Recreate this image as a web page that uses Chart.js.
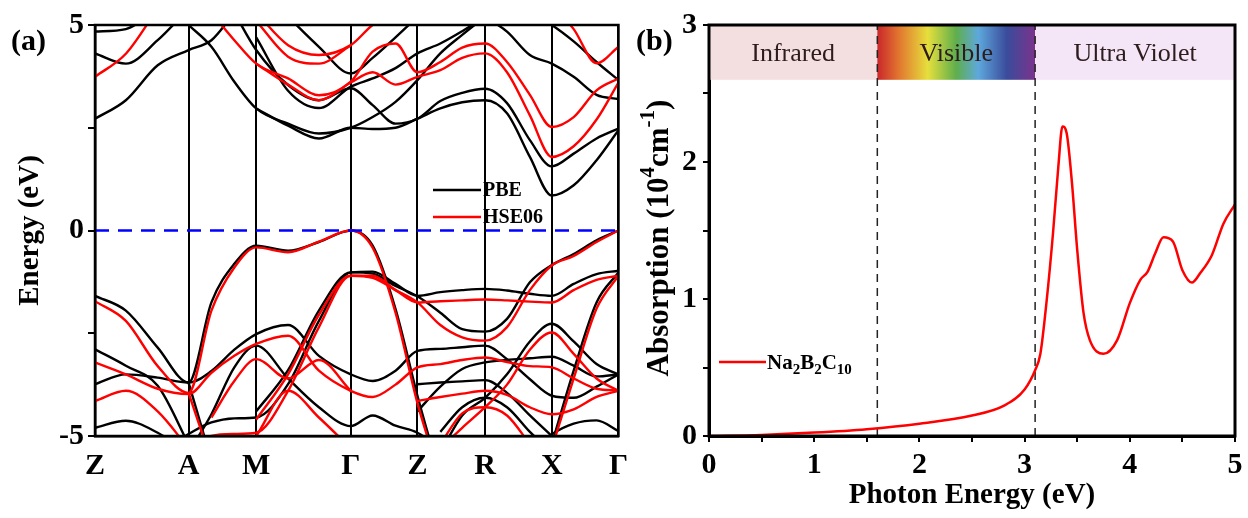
<!DOCTYPE html>
<html>
<head>
<meta charset="utf-8">
<script src="https://cdn.jsdelivr.net/npm/chart.js@4.4.1/dist/chart.umd.min.js"></script>
<style>
  html, body { margin: 0; background: #fff; }
  #wrap { position: relative; width: 1248px; height: 518px; }
  canvas { position: absolute; top: 0; }
</style>
</head>
<body>
<div id="wrap">
  <canvas id="bands" width="640" height="518" style="left:0"></canvas>
  <canvas id="absorb" width="618" height="518" style="left:630px"></canvas>
</div>
<script>
'use strict';

const SERIF = '"Liberation Serif", "Times New Roman", serif';
const N = null;
const gap = n => Array(n).fill(null);

// ---- panel (a): band structure ----
// k-path sample positions (same grid for every band)
const kPath = [0, 0.31, 0.63, 0.94, 1.17, 1.40, 1.62, 1.94, 2.25, 2.57, 2.79,
               3.02, 3.24, 3.47, 3.69, 3.92, 4.14, 4.37, 4.59, 4.81, 5.04, 5.26];
const kSymPos = [0, 0.94, 1.62, 2.57, 3.24, 3.92, 4.59, 5.26];
const kSymLabels = ['Z', 'A', 'M', 'Γ', 'Z', 'R', 'X', 'Γ'];

// PBE bands (eV), read at kPath
const pbeValence = [
  [-1.59, -1.95, -2.85, -3.70, -1.75, -0.81, -0.37, -0.49, -0.28, 0.00, -0.37, -1.91, -4.02, -6.0],
  [-3.74, -3.50, -3.58, -3.70, -3.42, -2.90, -2.52, -2.30, -3.05, -3.50, -3.66, -3.41, -2.93, -2.88, -2.84, -2.80, -3.13, -3.62, -4.02, -4.07, -3.80, -3.50],
  [-2.89, -3.29, -3.78, -5.20],
  [-4.80, -4.63, -4.92, -5.40],
  [N, N, -5.40, -4.95, -4.67, -4.57, -4.55, -3.74, -2.20, -1.02, -1.00, -1.30, -1.59, -1.50, -1.45, -1.42, -1.46, -1.54, -1.59, -1.30, -1.06, -0.98],
  [...gap(6), -4.40, -3.40, -1.95, -1.02, -1.05, -1.35, -1.60, -2.00, -2.40, -2.46, -2.15, -1.26, -0.84, -0.57, -0.24, 0.00],
  [...gap(3), -5.40, -4.47, -3.33, -2.80, -3.60, -4.30, -4.76, -4.50, -4.75, -4.92, -5.30],
  [...gap(13), -5.40, -4.50, -4.07, -3.50, -2.70, -2.27, -2.70, -3.25, -3.50],
  [...gap(12), -4.40, -3.80, -3.37, -3.21, -3.15, -3.11, -3.07, -3.29, -3.55, -3.50],
  [...gap(12), -3.74, -3.70, -3.67, -3.64, -3.95, -4.50, -5.00, -5.50],
  [...gap(13), -4.90, -4.30, -4.07, -4.30, -4.90, -5.40],
  [...gap(17), -5.40, -4.96, -4.70, -4.62, -4.88],
  [...gap(18), -5.20, -3.41, -1.75, -1.02],
  [...gap(3), -3.70, -5.60]
];
const pbeConduction = [
  [2.72, 3.17, 4.02, 4.39, 4.63, 5.30],
  [4.31, 4.06, 4.63, 5.40],
  [4.84, 4.90, 5.40],
  [...gap(3), 5.00, 4.47, 3.62, 2.97, 2.60, 2.36, 2.50, 2.76, 3.13, 3.66, 4.31, 4.76, 5.20],
  [...gap(6), 2.97, 2.55, 2.24, 2.50, 2.47, 2.50, 2.72, 2.97, 3.12, 3.17, 2.85, 1.79, 0.85, 1.10, 1.71, 2.44],
  [...gap(5), 5.30, 4.39, 3.54, 3.17, 3.46, 3.05, 2.60, 2.72, 3.15, 3.35, 3.45, 3.10, 2.20, 1.56, 1.87, 2.24, 2.48],
  [...gap(6), 4.70, 3.40, 2.98, 3.50, 3.70, 3.95, 4.31, 4.55, 4.85, 5.20],
  [...gap(7), 5.20, 4.47, 3.82, 4.20, 4.70, 5.20],
  [...gap(15), 5.20, 4.84, 4.27, 4.06, 3.74, 3.30, 3.20],
  [...gap(17), 5.30, 5.00, 4.60, 4.10, 3.66]
];

// HSE06 bands (eV), read at kPath
const hseValence = [
  [-1.72, -2.20, -3.30, -3.95, -1.95, -0.90, -0.41, -0.53, -0.27, 0.00, -0.42, -2.00, -4.20, -6.0],
  [...gap(3), -5.30, -5.00, -4.95, -4.92, -3.90, -2.35, -1.10, -1.10, -1.45, -1.75, -1.72, -1.70, -1.68, -1.70, -1.73, -1.75, -1.45, -1.20, -1.10],
  [...gap(6), -4.60, -3.50, -2.05, -1.10, -1.15, -1.45, -1.75, -2.30, -2.60, -2.68, -2.35, -1.45, -0.85, -0.62, -0.28, 0.00],
  [-3.21, -3.50, -3.85, -3.98, -3.46, -3.05, -2.76, -2.56, -3.41, -3.90, -4.05, -3.75, -3.33, -3.25, -3.15, -3.09, -3.20, -3.30, -3.33, -3.60, -3.85, -3.89],
  [-4.15, -3.90, -4.40, -5.30],
  [...gap(4), -4.55, -3.66, -3.13, -3.60, -3.15, -3.90],
  [...gap(6), -5.00, -3.90, -4.55, -5.30],
  [...gap(13), -5.30, -4.80, -4.30, -3.75, -2.90, -2.48, -3.00, -3.60, -3.90],
  [...gap(12), -4.15, -4.05, -3.97, -3.90, -4.00, -4.30, -4.47, -4.35, -4.05, -3.90],
  [...gap(13), -5.20, -4.45, -4.30, -4.50, -5.20],
  [...gap(18), -5.30, -3.60, -1.90, -1.10],
  [...gap(3), -3.95, -5.60]
];
const hseConduction = [
  [3.74, 4.30, 5.40],
  [...gap(4), 5.30, 4.63, 4.06, 3.70, 3.29, 3.62, 4.35, 4.55, 3.85, 4.10, 4.45, 4.55, 4.10, 3.30, 2.52, 2.76, 3.41, 3.70],
  [...gap(6), 4.06, 3.55, 3.17, 3.60, 3.85, 3.55, 3.74, 3.90, 4.20, 4.31, 3.85, 2.80, 1.79, 2.05, 2.70, 3.60],
  [...gap(6), 5.30, 4.51, 4.27, 4.51, 5.00, 5.30],
  [...gap(6), 5.10, 4.23, 4.06, 4.50],
  [...gap(18), 5.50, 4.90, 4.07, 4.47]
];

// ---- panel (b): absorption ----
const photonEnergy = [0, 0.5, 1.0, 1.5, 2.0, 2.5, 2.8, 3.0, 3.1, 3.15, 3.21, 3.27, 3.32, 3.36, 3.4,
                      3.45, 3.5, 3.56, 3.62, 3.75, 3.88, 4.0, 4.1, 4.17, 4.24, 4.32, 4.41, 4.5,
                      4.59, 4.67, 4.78, 4.89, 5.0];
const absorption = [0, 0.008, 0.025, 0.05, 0.09, 0.15, 0.22, 0.34, 0.48, 0.6, 0.99, 1.48, 1.96, 2.26, 2.21,
                    1.85, 1.36, 0.9, 0.7, 0.6, 0.7, 0.97, 1.14, 1.2, 1.33, 1.45, 1.42, 1.21,
                    1.12, 1.19, 1.32, 1.55, 1.69];
const regionEdges = [0, 1.6, 3.1, 5];
const regionNames = ['Infrared', 'Visible', 'Ultra Violet'];
const regionSpan = [2.6, 3];

Chart.defaults.font.family = SERIF;
Chart.defaults.color = '#000';

function bandLine(values, color) {
  return {
    data: kPath.map((k, i) => ({ x: k, y: values[i] === undefined ? null : values[i] })),
    borderColor: color,
    borderWidth: 2.4,
    pointRadius: 0,
    cubicInterpolationMode: 'monotone',
    fill: false
  };
}

const boldTicks = { size: 28, weight: 'bold' };

// frame, panel label and legend for (a)
const bandsDecor = {
  id: 'bandsDecor',
  afterDraw(chart) {
    const { ctx, chartArea: a } = chart;
    ctx.save();
    ctx.strokeStyle = '#000';
    ctx.lineWidth = 2.5;
    ctx.strokeRect(a.left, a.top, a.right - a.left, a.bottom - a.top);

    ctx.fillStyle = '#000';
    ctx.font = 'bold 30px ' + SERIF;
    ctx.textBaseline = 'alphabetic';
    ctx.fillText('(a)', 11, 50);

    ctx.font = 'bold 20px ' + SERIF;
    ctx.textBaseline = 'middle';
    [['PBE', '#000000', 190], ['HSE06', '#ff0000', 217]].forEach(([label, color, y]) => {
      ctx.strokeStyle = color;
      ctx.lineWidth = 2.5;
      ctx.beginPath();
      ctx.moveTo(433, y);
      ctx.lineTo(481, y);
      ctx.stroke();
      ctx.fillStyle = '#000';
      ctx.fillText(label, 483, y + 1);
    });
    ctx.restore();
  }
};

const fermiLine = {
  data: [{ x: 0, y: 0 }, { x: kSymPos[kSymPos.length - 1], y: 0 }],
  borderColor: '#0000ff',
  borderWidth: 2.5,
  borderDash: [14, 9],
  pointRadius: 0
};

new Chart(document.getElementById('bands'), {
  type: 'line',
  data: {
    datasets: [
      fermiLine,
      ...hseValence.map(b => bandLine(b, '#ff0000')),
      ...hseConduction.map(b => bandLine(b, '#ff0000')),
      ...pbeValence.map(b => bandLine(b, '#000000')),
      ...pbeConduction.map(b => bandLine(b, '#000000'))
    ]
  },
  options: {
    responsive: false,
    animation: false,
    devicePixelRatio: 1,
    layout: { padding: { left: 0, right: 19, top: 25, bottom: 0 } },
    plugins: { legend: { display: false }, tooltip: { enabled: false } },
    scales: {
      x: {
        type: 'linear',
        min: 0,
        max: kSymPos[kSymPos.length - 1],
        afterBuildTicks: s => { s.ticks = kSymPos.map(v => ({ value: v })); },
        afterFit: s => { s.height = 82; },
        grid: { color: '#000', lineWidth: 2, drawTicks: false },
        border: { color: '#000', width: 2.5 },
        ticks: { font: { size: 30, weight: 'bold' }, padding: 12, autoSkip: false, maxRotation: 0,
                 callback: (v, i) => kSymLabels[i] }
      },
      y: {
        min: -5,
        max: 5,
        afterFit: s => { s.width = 95; },
        grid: { drawOnChartArea: false, color: '#000', lineWidth: 2, tickLength: 7 },
        border: { color: '#000', width: 2.5 },
        ticks: { stepSize: 2.5, font: { size: 30, weight: 'bold' }, padding: 4, autoSkip: false,
                 callback: v => (v % 5 === 0 ? String(v) : '') },
        title: { display: true, text: 'Energy (eV)', font: { size: 29, weight: 'bold' },
                 padding: { top: 13, bottom: 0 } }
      }
    }
  },
  plugins: [bandsDecor]
});

// ---- chart (b) ----
function drawRuns(ctx, runs, x, y) {
  runs.forEach(([text, size, dy]) => {
    ctx.font = 'bold ' + size + 'px ' + SERIF;
    ctx.fillText(text, x, y + dy);
    x += ctx.measureText(text).width;
  });
}
function runsWidth(ctx, runs) {
  return runs.reduce((w, [text, size]) => {
    ctx.font = 'bold ' + size + 'px ' + SERIF;
    return w + ctx.measureText(text).width;
  }, 0);
}

const absorbDecor = {
  id: 'absorbDecor',
  beforeDatasetsDraw(chart) {
    const { ctx, scales: { x, y } } = chart;
    const top = y.getPixelForValue(regionSpan[1]);
    const bot = y.getPixelForValue(regionSpan[0]);
    ctx.save();
    for (let i = 0; i < regionNames.length; i++) {
      const x0 = x.getPixelForValue(regionEdges[i]);
      const x1 = x.getPixelForValue(regionEdges[i + 1]);
      if (i === 1) {
        const g = ctx.createLinearGradient(x0, 0, x1, 0);
        g.addColorStop(0.00, '#c9272b');
        g.addColorStop(0.14, '#e2782f');
        g.addColorStop(0.32, '#e6df3c');
        g.addColorStop(0.50, '#5fae4d');
        g.addColorStop(0.64, '#5ea8dc');
        g.addColorStop(0.82, '#3a4c9c');
        g.addColorStop(1.00, '#7b338c');
        ctx.fillStyle = g;
      } else {
        ctx.fillStyle = i === 0 ? '#f4dfe0' : '#f4e5f7';
      }
      ctx.fillRect(x0, top, x1 - x0, bot - top);
      ctx.fillStyle = '#2d1c1c';
      ctx.font = '26px ' + SERIF;
      ctx.textAlign = 'center';
      ctx.textBaseline = 'middle';
      ctx.fillText(regionNames[i], (x0 + x1) / 2, (top + bot) / 2 + 2);
    }
    ctx.restore();
  },
  afterDraw(chart) {
    const { ctx, chartArea: a } = chart;
    ctx.save();
    ctx.strokeStyle = '#000';
    ctx.lineWidth = 3;
    ctx.strokeRect(a.left, a.top, a.right - a.left, a.bottom - a.top);

    ctx.fillStyle = '#000';
    ctx.textBaseline = 'alphabetic';
    ctx.font = 'bold 30px ' + SERIF;
    ctx.fillText('(b)', 6, 50);

    // y title with superscripts
    const title = [['Absorption (10', 31, 0], ['4', 21, -11], ['cm', 31, 0], ['-1', 21, -11], [')', 31, 0]];
    ctx.translate(30, 238);
    ctx.rotate(-Math.PI / 2);
    ctx.textBaseline = 'middle';
    drawRuns(ctx, title, -runsWidth(ctx, title) / 2, 0);
    ctx.setTransform(1, 0, 0, 1, 0, 0);

    // legend
    ctx.strokeStyle = '#ff0000';
    ctx.lineWidth = 2.5;
    ctx.beginPath();
    ctx.moveTo(89, 362);
    ctx.lineTo(136, 362);
    ctx.stroke();
    ctx.textBaseline = 'alphabetic';
    drawRuns(ctx, [['Na', 21, 0], ['2', 15, 5], ['B', 21, 0], ['2', 15, 5], ['C', 21, 0], ['10', 15, 5]], 137, 369);
    ctx.restore();
  }
};

function regionDivider(e) {
  return {
    data: [{ x: e, y: 0 }, { x: e, y: regionSpan[1] }],
    borderColor: '#222',
    borderWidth: 1.5,
    borderDash: [8, 6],
    pointRadius: 0
  };
}

new Chart(document.getElementById('absorb'), {
  type: 'line',
  data: {
    datasets: [
      {
        data: photonEnergy.map((e, i) => ({ x: e, y: absorption[i] })),
        borderColor: '#ff0000',
        borderWidth: 2.5,
        pointRadius: 0,
        cubicInterpolationMode: 'monotone'
      },
      regionDivider(regionEdges[1]),
      regionDivider(regionEdges[2])
    ]
  },
  options: {
    responsive: false,
    animation: false,
    devicePixelRatio: 1,
    layout: { padding: { left: 0, right: 13, top: 25, bottom: 0 } },
    plugins: { legend: { display: false }, tooltip: { enabled: false } },
    scales: {
      x: {
        type: 'linear',
        min: 0,
        max: 5,
        afterFit: s => { s.height = 82; },
        grid: { drawOnChartArea: false, color: '#000', lineWidth: 2, tickLength: 6 },
        border: { color: '#000', width: 3 },
        ticks: { stepSize: 0.5, font: { size: 30, weight: 'bold' }, padding: 5, autoSkip: false, maxRotation: 0,
                 callback: v => (Number.isInteger(v) ? String(v) : '') },
        title: { display: true, text: 'Photon Energy (eV)', font: { size: 29, weight: 'bold' },
                 padding: { top: 0, bottom: 5 } }
      },
      y: {
        min: 0,
        max: 3,
        afterFit: s => { s.width = 79; },
        grid: { drawOnChartArea: false, color: '#000', lineWidth: 2, tickLength: 6 },
        border: { color: '#000', width: 3 },
        ticks: { stepSize: 0.5, font: { size: 30, weight: 'bold' }, padding: 6, autoSkip: false,
                 callback: v => (Number.isInteger(v) ? String(v) : '') }
      }
    }
  },
  plugins: [absorbDecor]
});
</script>
</body>
</html>
